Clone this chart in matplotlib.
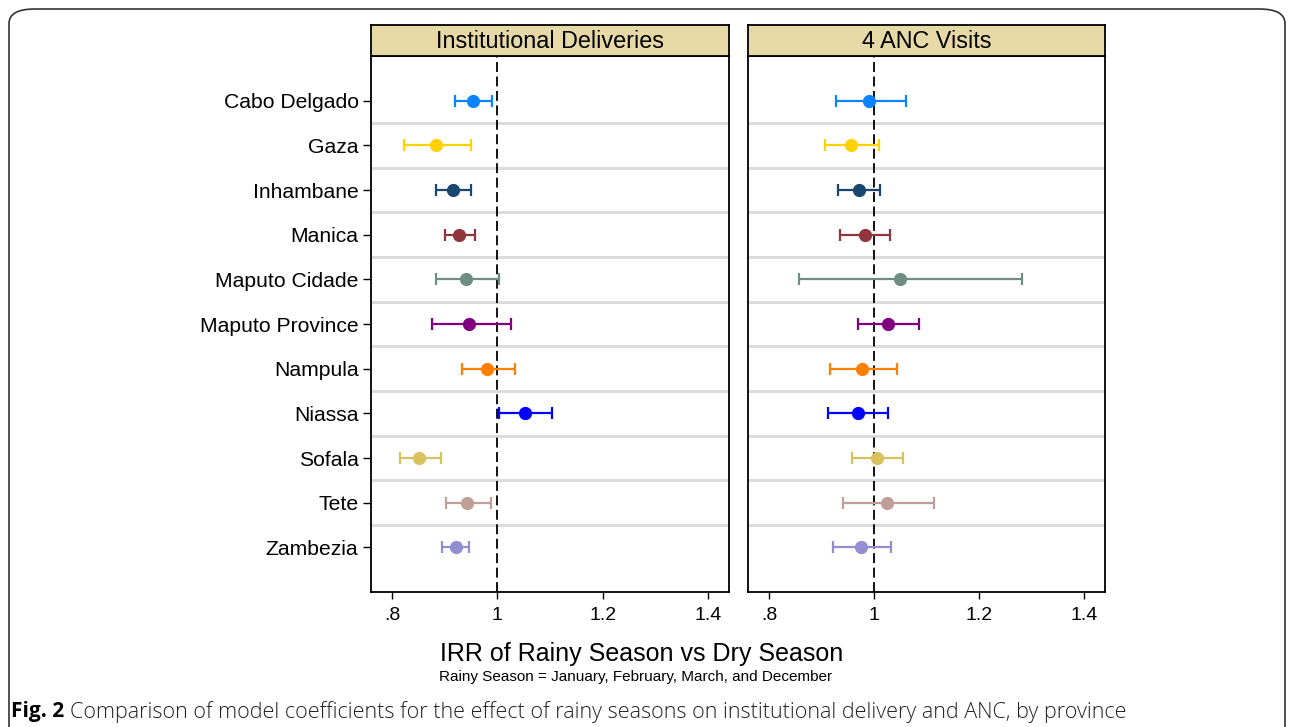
import numpy as np
import matplotlib
matplotlib.use("Agg")
import matplotlib.pyplot as plt
from matplotlib.patches import FancyBboxPatch

plt.rcParams['font.family'] = ['Liberation Sans', 'DejaVu Sans']

provinces = ["Cabo Delgado", "Gaza", "Inhambane", "Manica", "Maputo Cidade",
             "Maputo Province", "Nampula", "Niassa", "Sofala", "Tete", "Zambezia"]
colors = ["#0a84ff", "#ffd200", "#1a476f", "#90353b", "#6e8e84",
          "#800080", "#ff7f00", "#0000ff", "#d9c25e", "#c0a096", "#938dd2"]

# institutional deliveries: estimate, lower, upper
inst_est = [0.954, 0.884, 0.916, 0.928, 0.941, 0.947, 0.980, 1.052, 0.852, 0.943, 0.921]
inst_lo = [0.919, 0.822, 0.884, 0.900, 0.883, 0.876, 0.932, 1.003, 0.816, 0.902, 0.895]
inst_hi = [0.990, 0.949, 0.949, 0.957, 1.003, 1.025, 1.033, 1.103, 0.893, 0.987, 0.947]

# 4 ANC visits
anc_est = [0.991, 0.956, 0.971, 0.982, 1.049, 1.026, 0.978, 0.970, 1.006, 1.025, 0.975]
anc_lo = [0.928, 0.906, 0.932, 0.936, 0.858, 0.969, 0.917, 0.913, 0.958, 0.941, 0.921]
anc_hi = [1.060, 1.010, 1.011, 1.030, 1.281, 1.086, 1.044, 1.027, 1.055, 1.115, 1.033]

panels = ["Institutional Deliveries", "4 ANC Visits"]
xticks = [0.8, 1.0, 1.2, 1.4]
xticklabels = [".8", "1", "1.2", "1.4"]

W, H = 1292, 727
fig = plt.figure(figsize=(W / 100, H / 100), dpi=100)


def px(x0, y0, x1, y1):
    return [x0 / W, 1 - y1 / H, (x1 - x0) / W, (y1 - y0) / H]


# outer rounded frame
frame = FancyBboxPatch((9 / W, -0.05), (1285 - 9) / W, 1 - 9 / H + 0.05,
                       boxstyle="round,pad=0,rounding_size=0.02",
                       transform=fig.transFigure, fill=False,
                       edgecolor="#333333", linewidth=1.2)
fig.patches.append(frame)

ypos = np.arange(1, len(provinces) + 1)
data = [(inst_est, inst_lo, inst_hi), (anc_est, anc_lo, anc_hi)]
xspans = [(371, 729), (748, 1105)]

for k, ((est, lo, hi), (x0, x1)) in enumerate(zip(data, xspans)):
    ax = fig.add_axes(px(x0, 56, x1, 592))
    ax.set_xlim(0.76, 1.44)
    ax.set_ylim(len(provinces) + 1, 0)
    for g in np.arange(1.5, len(provinces), 1.0):
        ax.axhline(g, color="#dcdcdc", linewidth=2.2, zorder=0)
    ax.axvline(1.0, color="black", linewidth=1.3, dashes=(5.5, 2.5), zorder=1)
    for i in range(len(provinces)):
        e = np.array([[est[i] - lo[i]], [hi[i] - est[i]]])
        ax.errorbar(est[i], ypos[i], xerr=e, fmt="o", color=colors[i],
                    markersize=8.5, elinewidth=1.6, capsize=4.5, capthick=1.6,
                    zorder=3)
    ax.set_xticks(xticks)
    ax.set_xticklabels(xticklabels, fontsize=14)
    ax.tick_params(axis="x", length=5, width=1, pad=6)
    ax.set_yticks(ypos)
    if k == 0:
        ax.set_yticklabels(provinces, fontsize=15.2)
        ax.tick_params(axis="y", length=6, width=1, pad=3)
    else:
        ax.set_yticklabels([])
        ax.tick_params(axis="y", length=0)
    for s in ax.spines.values():
        s.set_linewidth(1.3)

    strip = fig.add_axes(px(x0, 25, x1, 56))
    strip.set_facecolor("#e6d9a6")
    strip.set_xticks([])
    strip.set_yticks([])
    for s in strip.spines.values():
        s.set_linewidth(1.3)
    strip.text(0.5, 0.48, panels[k], ha="center", va="center", fontsize=16.8,
               transform=strip.transAxes)

fig.text(642 / W, 1 - 654 / H, "IRR of Rainy Season vs Dry Season",
         ha="center", va="center", fontsize=18)
fig.text(636 / W, 1 - 677 / H,
         "Rainy Season = January, February, March, and December",
         ha="center", va="center", fontsize=11)

cap = ["Open Sans", "DejaVu Sans"]
t1 = fig.text(11 / W, 1 - 712 / H, "Fig. 2", ha="left", va="center",
              fontsize=15, fontweight="bold", family=cap)
fig.canvas.draw()
bb = t1.get_window_extent()
fig.text((bb.x1 + 6) / W, 1 - 712 / H,
         "Comparison of model coefficients for the effect of rainy seasons on "
         "institutional delivery and ANC, by province",
         ha="left", va="center", fontsize=15.5, fontweight="light", family=cap,
         color="#222222")

fig.savefig("out.png", dpi=100)
